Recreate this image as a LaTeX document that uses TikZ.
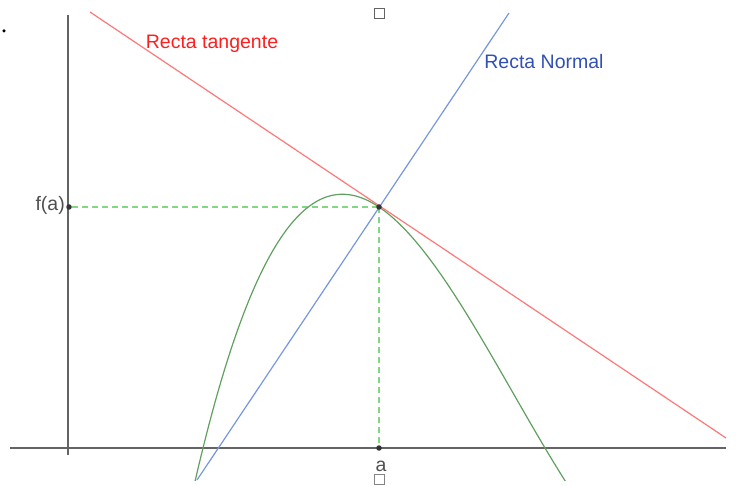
\documentclass[tikz,border=0pt]{standalone}
\usepackage{fontspec}
\setmainfont{Liberation Sans}
\definecolor{axisgrey}{RGB}{100,100,100}
\definecolor{tanred}{RGB}{255,120,120}
\definecolor{tantext}{RGB}{255,30,30}
\definecolor{normblue}{RGB}{120,150,220}
\definecolor{normtext}{RGB}{50,80,180}
\definecolor{curvegreen}{RGB}{95,160,95}
\definecolor{dashgreen}{RGB}{130,215,130}
\definecolor{labelgrey}{RGB}{80,80,80}
\begin{document}
\begin{tikzpicture}[x=1pt,y=-1pt,
  axisline/.style={draw=axisgrey,line width=1.2pt},
  guide/.style={draw=dashgreen,line width=1.2pt,dash pattern=on 6pt off 4pt},
  ptdot/.style={circle,fill=black!80,inner sep=0pt,minimum size=5.5pt},
  marksq/.style={draw=axisgrey,fill=white,line width=1pt,minimum size=10pt,inner sep=0pt},
  lbl/.style={font=\fontsize{19.5}{22}\selectfont,inner sep=0pt}]
\useasboundingbox (0,0) rectangle (736,486);
% axes
\coordinate (xl) at (10,448);
\coordinate (xr) at (726,448);
\coordinate (yt) at (68,15);
\coordinate (yb) at (68,455);
\draw[axisline] (xl) -- (xr);
\draw[axisline] (yt) -- (yb);
% stray dot
\node[circle,fill=black,inner sep=0pt,minimum size=3.5pt] (sdot) at (4,31) {};
% points
\coordinate (P) at (379,207);
\node[ptdot] (fa) at (69,207) {};
\node[ptdot] (A) at (379,448) {};
% guides
\draw[guide] (fa) -- (P);
\draw[guide] (P) -- (A);
% curve
\begin{scope}
\clip (0,0) rectangle (736,480.5);
\draw[curvegreen,line width=1.2pt,domain=-0.09:3.63,samples=120,smooth]
  plot ({100*\x+203},{448-(\x)*(3.42-\x)*(117.88-20.11*\x)});
\end{scope}
% tangent and normal
\coordinate (t1) at (90,12);
\coordinate (t2) at (726,438);
\coordinate (n1) at (197,480);
\coordinate (n2) at (509,13);
\draw[tanred,line width=1.2pt] (t1) -- (t2);
\draw[normblue,line width=1.2pt] (n1) -- (n2);
\node[ptdot] (Pd) at (P) {};
% labels
\node[lbl,text=tantext] (lt) at (212,44) {Recta tangente};
\node[lbl,text=normtext] (ln) at (544,62) {Recta Normal};
\node[lbl,text=labelgrey,anchor=east] (lfa) at (65,205) {f(a)};
\node[lbl,text=labelgrey] (la) at (381,466) {a};
% squares
\node[marksq] (sqt) at (379,14) {};
\node[marksq,draw=axisgrey!80] (sqb) at (379,479) {};
\end{tikzpicture}
\end{document}
